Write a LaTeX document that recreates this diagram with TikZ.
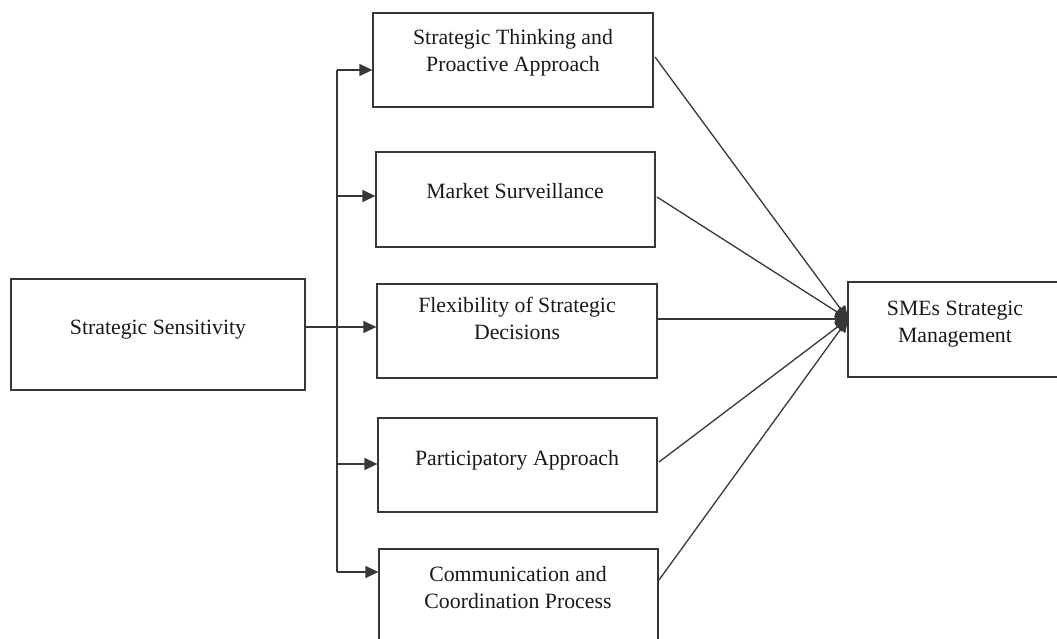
\documentclass[tikz,border=0pt]{standalone}
\usepackage{fontspec}
\setmainfont{Liberation Serif}
\usetikzlibrary{arrows.meta}
\definecolor{ink}{RGB}{55,55,55}
\begin{document}
\begin{tikzpicture}[x=1pt,y=-1pt,
  box/.style={draw=ink,line width=1.3pt,rectangle,inner sep=0pt},
  lbl/.style={align=center,anchor=base,inner sep=0pt,font=\fontsize{21.8}{27}\selectfont,text=black!90},
  link/.style={draw=ink,line width=1.3pt},
  arr/.style={link,-{Triangle[length=13pt,width=12pt]}}]
\useasboundingbox (0,0) rectangle (1057,639);
\clip (0,0) rectangle (1057,639);

% boxes
\node[box,minimum width=294pt,minimum height=111pt] (ss) at (158,334.5) {};
\node[box,minimum width=280pt,minimum height=94pt] (b1) at (513,60) {};
\node[box,minimum width=279pt,minimum height=95pt] (b2) at (515.5,199.5) {};
\node[box,minimum width=280pt,minimum height=94pt] (b3) at (517,331) {};
\node[box,minimum width=279pt,minimum height=94pt] (b4) at (517.5,465) {};
\node[box,minimum width=279pt,minimum height=96pt] (b5) at (518.5,597) {};
\node[box,minimum width=216pt,minimum height=95pt] (sm) at (956,329.5) {};

% labels (anchored on the baseline of their last line)
\node[lbl] (tss) at (158,334) {Strategic Sensitivity};
\node[lbl] (t1) at (513,72) {Strategic Thinking and\\Proactive Approach};
\node[lbl] (t2) at (515,199) {Market Surveillance};
\node[lbl] (t3) at (517,339) {Flexibility of Strategic\\Decisions};
\node[lbl] (t4) at (517,465) {Participatory Approach};
\node[lbl] (t5) at (518,608) {Communication and\\Coordination Process};
\node[lbl] (tsm) at (955,342) {SMEs Strategic\\Management};

% distribution trunk
\coordinate (r1) at (337,70);
\coordinate (r2) at (337,196);
\coordinate (r3) at (337,327);
\coordinate (r4) at (337,464);
\coordinate (r5) at (337,572);
\draw[link] (ss.east |- r3) -- (r3);
\draw[link] (r1) -- (r5);
\draw[arr] (r1) -- (r1 -| b1.west);
\draw[arr] (r2) -- (r2 -| b2.west);
\draw[arr] (r3) -- (r3 -| b3.west);
\draw[arr] (r4) -- (r4 -| b4.west);
\draw[arr] (r5) -- (r5 -| b5.west);

% converging links
\coordinate (hub) at (848,319);
\coordinate (o1) at (655,57);
\coordinate (o2) at (657,197);
\coordinate (o3) at (657,319);
\coordinate (o4) at (659,462);
\coordinate (o5) at (659,580);
\foreach \o in {o1,o2,o3,o4,o5}
  \draw[arr] (\o) -- (hub);
\end{tikzpicture}
\end{document}
